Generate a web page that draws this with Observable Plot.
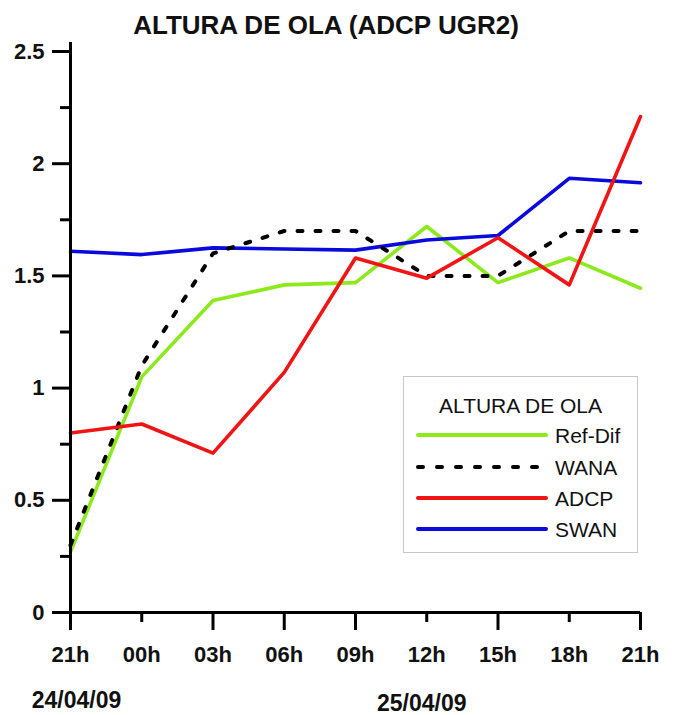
<!DOCTYPE html>
<html>
<head>
<meta charset="utf-8">
<script src="https://cdn.jsdelivr.net/npm/d3@7"></script>
<script src="https://cdn.jsdelivr.net/npm/@observablehq/plot@0.6"></script>
<style>
  body { margin: 0; background: #fff; }
  #wrap { position: relative; width: 675px; height: 715px; font-family: "Liberation Sans", Arial, sans-serif; }
  #title { height: 40px; box-sizing: border-box; padding-top: 12px; font-size: 26px; font-weight: bold; line-height: 1; text-align: center; width: 652px; color: #111; }
  #legend { position: absolute; left: 403px; top: 376px; width: 235px; height: 177px; box-sizing: border-box; border: 1px solid #c8c8c8; background: #fff; }
  #legend .lt { position: absolute; left: 0; width: 100%; text-align: center; top: 18px; font-size: 21px; line-height: 1; color: #111; }
  #legend .row { position: absolute; left: 0; width: 100%; height: 24px; }
  #legend .row svg { position: absolute; left: 10px; top: 0; }
  #legend .row span { position: absolute; left: 151px; top: 2px; font-size: 21px; line-height: 1; color: #111; }
  #chart svg text { font-weight: bold; }
</style>
</head>
<body>
<div id="wrap">
  <div id="title">ALTURA DE OLA (ADCP UGR2)</div>
  <div id="chart"></div>
  <div id="legend"></div>
</div>
<script>
// ---- data ----
const hours = [0, 3, 6, 9, 12, 15, 18, 21, 24];
const hourLabels = ["21h", "00h", "03h", "06h", "09h", "12h", "15h", "18h", "21h"];
const longTickHours = [0, 6, 9, 12, 18, 24];
const shortTickHours = [3, 15, 21];
const refDif = [0.27, 1.05, 1.39, 1.46, 1.47, 1.72, 1.47, 1.58, 1.445];
const wana   = [0.30, 1.10, 1.60, 1.70, 1.70, 1.50, 1.50, 1.70, 1.70];
const adcp   = [0.80, 0.84, 0.71, 1.07, 1.58, 1.49, 1.67, 1.46, 2.21];
const swan   = [1.61, 1.595, 1.625, 1.62, 1.615, 1.66, 1.68, 1.935, 1.915];
const yMajor = [0, 0.5, 1, 1.5, 2, 2.5];
const yMinor = [0.25, 0.75, 1.25, 1.75, 2.25];
const dateLabels = ["24/04/09", "25/04/09"];
const dateHours = [0, 15];
const seriesNames = ["Ref-Dif", "WANA", "ADCP", "SWAN"];
const seriesColors = ["#8ce91c", "#000000", "#f01414", "#0a0adc"];

const seriesValues = [refDif, wana, adcp, swan];
const rows = [];
seriesNames.forEach((name, si) => hours.forEach((h, i) => rows.push({ series: name, h, v: seriesValues[si][i] })));
const of = name => rows.filter(d => d.series === name);

const chart = Plot.plot({
  width: 675,
  height: 675,
  marginLeft: 70,
  marginRight: 35,
  marginTop: 11,
  marginBottom: 103,
  style: { fontFamily: "'Liberation Sans', Arial, sans-serif", background: "#fff", overflow: "visible" },
  x: { domain: [0, 24], axis: null, label: null },
  y: { domain: [0, 2.5], axis: null, label: null },
  marks: [
    // data lines
    Plot.line(of("Ref-Dif"), { x: "h", y: "v", stroke: seriesColors[0], strokeWidth: 3.6 }),
    Plot.line(of("SWAN"), { x: "h", y: "v", stroke: seriesColors[3], strokeWidth: 3.6 }),
    Plot.line(of("WANA"), { x: "h", y: "v", stroke: seriesColors[1], strokeWidth: 4, strokeDasharray: "5 13", strokeLinecap: "round" }),
    Plot.line(of("ADCP"), { x: "h", y: "v", stroke: seriesColors[2], strokeWidth: 3.6 }),
    // axes
    Plot.ruleX([0], { y1: 0, y2: 2.54, stroke: "#000", strokeWidth: 3 }),
    Plot.ruleY([0], { stroke: "#000", strokeWidth: 3 }),
    Plot.axisY({ ticks: yMajor, label: null, tickSize: 18, tickPadding: 8, tickFormat: d => String(d), strokeWidth: 3, stroke: "#000", fontSize: 22, fill: "#111" }),
    Plot.axisY({ ticks: yMinor, label: null, tickSize: 10, text: null, strokeWidth: 3, stroke: "#000" }),
    Plot.axisX({ ticks: longTickHours, label: null, tickSize: 18, text: null, strokeWidth: 3, stroke: "#000" }),
    Plot.axisX({ ticks: shortTickHours, label: null, tickSize: 10, text: null, strokeWidth: 3, stroke: "#000" }),
    Plot.axisX({ ticks: hours, label: null, tickSize: 0, tickPadding: 34, tickFormat: (d, i) => hourLabels[i], fontSize: 22, fill: "#111" }),
    // dates
    Plot.text([dateLabels[0]], { x: [dateHours[0]], y: [0], text: d => d, dy: 88, dx: 6, fontSize: 23, fill: "#111" }),
    Plot.text([dateLabels[1]], { x: [dateHours[1]], y: [0], text: d => d, dy: 91, dx: -5, fontSize: 23, fill: "#111" })
  ]
});
document.getElementById("chart").append(chart);

// ---- legend ----
const leg = document.getElementById("legend");
const lt = document.createElement("div");
lt.className = "lt";
lt.textContent = "ALTURA DE OLA";
leg.append(lt);
const rowCenters = [58, 90, 121, 152];
seriesNames.forEach((name, i) => {
  const row = document.createElement("div");
  row.className = "row";
  row.style.top = (rowCenters[i] - 12) + "px";
  const ns = "http://www.w3.org/2000/svg";
  const s = document.createElementNS(ns, "svg");
  s.setAttribute("width", 136);
  s.setAttribute("height", 24);
  const l = document.createElementNS(ns, "line");
  l.setAttribute("x1", 4); l.setAttribute("x2", 132);
  l.setAttribute("y1", 12); l.setAttribute("y2", 12);
  l.setAttribute("stroke", seriesColors[i]);
  l.setAttribute("stroke-width", 4);
  l.setAttribute("stroke-linecap", "round");
  if (name === "WANA") l.setAttribute("stroke-dasharray", "5 14");
  s.append(l);
  const t = document.createElement("span");
  t.textContent = name;
  row.append(s, t);
  leg.append(row);
});
</script>
</body>
</html>
